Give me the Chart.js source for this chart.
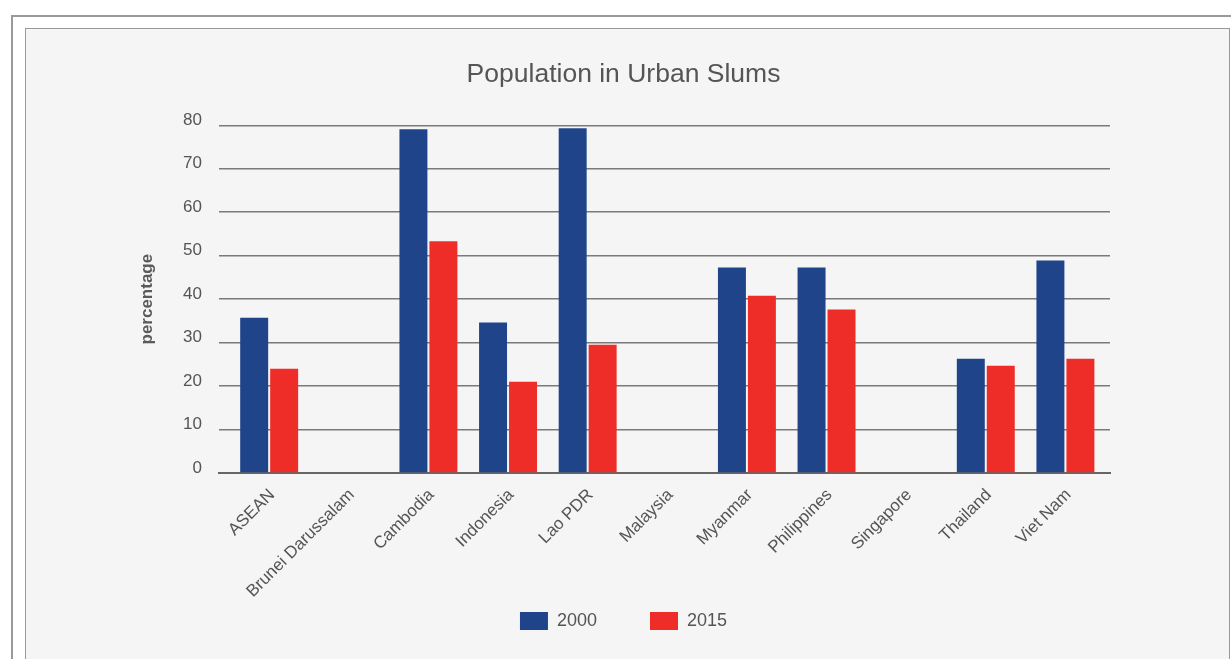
<!DOCTYPE html>
<html lang="en">
<head>
    <meta charset="UTF-8">
    <script src="https://cdn.jsdelivr.net/npm/chart.js"></script>
    <title>Population in Urban Slums</title>
    <style>
        body { margin: 0; background: #fff; overflow: hidden; }
        .outer { position: absolute; left: 11px; top: 15px; width: 1240px; height: 660px; border: 2px solid #9a9a9a; }
        .panel { position: absolute; left: 25px; top: 28px; width: 1203px; height: 640px; background: #f5f5f5; border: 1px solid #999; }
        #chart { display: block; }
    </style>
</head>
<body>
    <div class="outer"></div>
    <div class="panel">
        <canvas id="chart" width="1203" height="630"></canvas>
    </div>

    <script>
        // data (percent of urban population)
        const countries = ['ASEAN', 'Brunei Darussalam', 'Cambodia', 'Indonesia', 'Lao PDR', 'Malaysia',
                           'Myanmar', 'Philippines', 'Singapore', 'Thailand', 'Viet Nam'];
        const slums2000 = [35.7, null, 79.1, 34.6, 79.3, null, 47.3, 47.3, null, 26.3, 48.9];
        const slums2015 = [24.0, null, 53.3, 21.0, 29.5, null, 40.8, 37.6, null, 24.7, 26.3];
        const yTicks = [0, 10, 20, 30, 40, 50, 60, 70, 80];

        const grey = '#555';
        const font = 'Liberation Sans, Arial, Helvetica, sans-serif';

        // x is a linear axis so the groups can sit a little inside the grid lines
        const toPoints = (vals) => vals.map((v, i) => ({ x: i, y: v }));

        new Chart(document.getElementById('chart'), {
            type: 'bar',
            data: {
                datasets: [
                    { label: '2000', data: toPoints(slums2000), backgroundColor: '#1f448a', barPercentage: 0.933, categoryPercentage: 0.753 },
                    { label: '2015', data: toPoints(slums2015), backgroundColor: '#ee2d29', barPercentage: 0.933, categoryPercentage: 0.753 }
                ]
            },
            options: {
                responsive: false,
                animation: false,
                layout: { padding: { left: 111, right: 119, top: 0, bottom: 19 } },
                plugins: {
                    title: {
                        display: true,
                        text: 'Population in Urban Slums',
                        color: grey,
                        font: { family: font, size: 26.5, weight: 'normal' },
                        padding: { top: 30, bottom: 34.5 }
                    },
                    legend: {
                        position: 'bottom',
                        onClick: null,
                        labels: {
                            color: grey,
                            boxWidth: 28,
                            boxHeight: 18,
                            padding: 8,
                            font: { family: font, size: 18 },
                            // empty item between the two keeps them apart like the original
                            generateLabels: (chart) => {
                                const items = Chart.defaults.plugins.legend.labels.generateLabels(chart);
                                items.splice(1, 0, { text: '', fillStyle: 'rgba(0,0,0,0)', strokeStyle: 'rgba(0,0,0,0)', lineWidth: 0, hidden: false });
                                return items;
                            }
                        }
                    },
                    tooltip: { enabled: false }
                },
                scales: {
                    x: {
                        type: 'linear',
                        offset: false,
                        min: -0.63,
                        max: 10.56,
                        afterBuildTicks: (s) => { s.ticks = countries.map((c, i) => ({ value: i })); },
                        grid: { display: false },
                        border: { color: '#666', width: 2 },
                        ticks: {
                            color: grey,
                            font: { family: font, size: 17 },
                            maxRotation: 45,
                            minRotation: 45,
                            autoSkip: false,
                            padding: 4,
                            labelOffset: 3,
                            callback: (v) => countries[v]
                        },
                        afterFit: (s) => { s.height = 131; }
                    },
                    y: {
                        min: 0,
                        max: 80,
                        afterBuildTicks: (s) => { s.ticks = yTicks.map(v => ({ value: v })); },
                        grid: { color: '#7a7a7a', lineWidth: 1.5, drawTicks: false },
                        border: { display: false },
                        ticks: {
                            color: grey,
                            font: { family: font, size: 17 },
                            padding: 17,
                            labelOffset: -5
                        },
                        title: {
                            display: true,
                            text: 'percentage',
                            color: '#5a5a5a',
                            font: { family: font, size: 17, weight: 'bold' },
                            padding: 0
                        },
                        afterFit: (s) => { s.width = 82; }
                    }
                }
            }
        });
    </script>
</body>
</html>
